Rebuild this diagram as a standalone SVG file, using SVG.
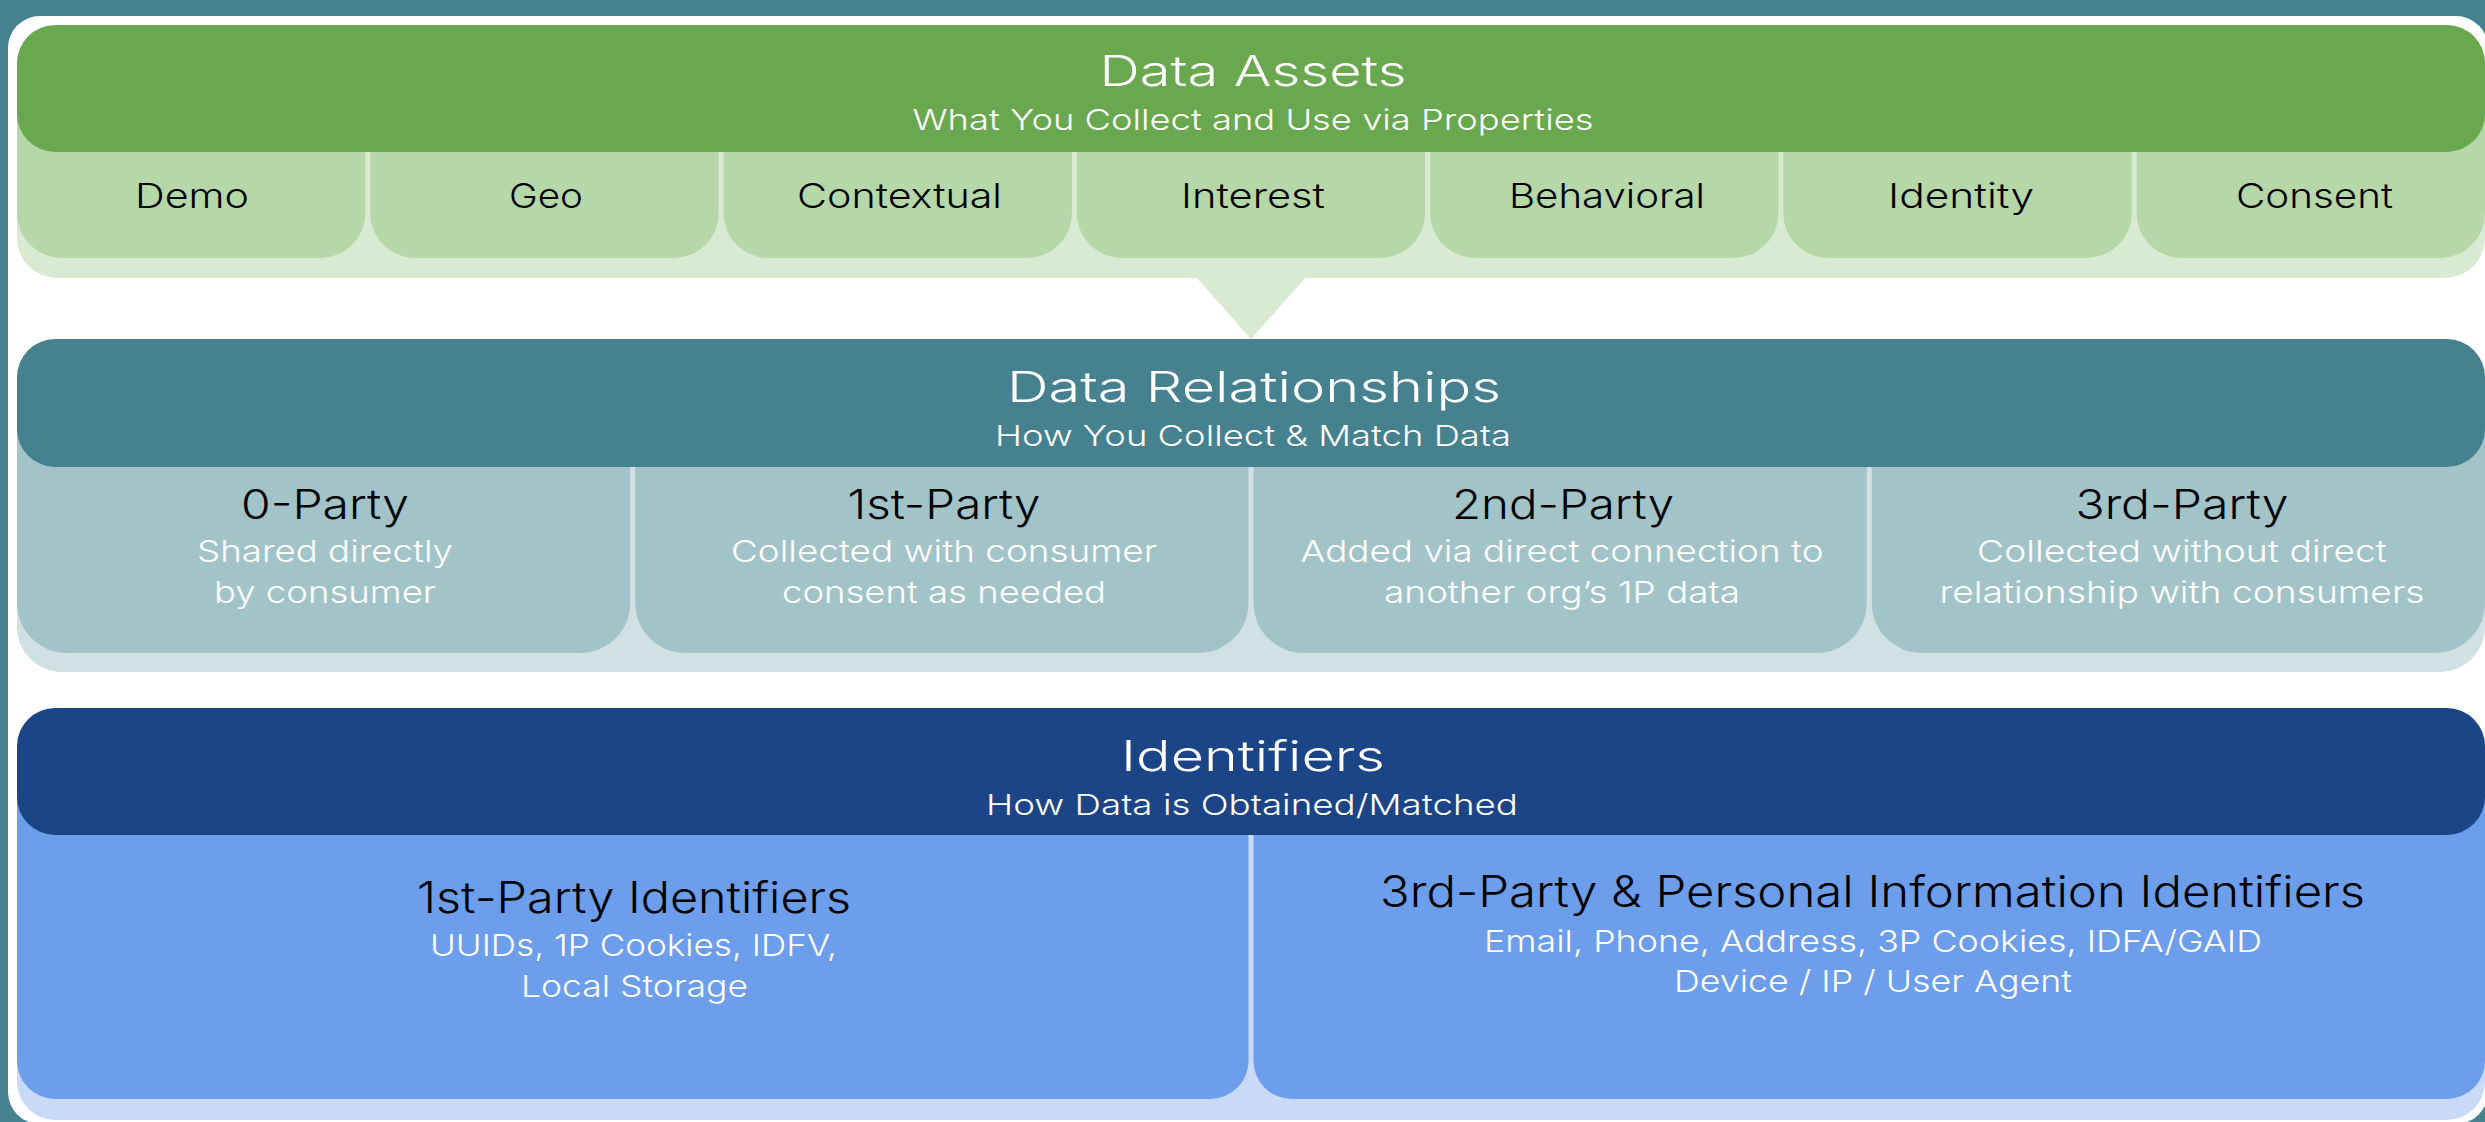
<svg xmlns="http://www.w3.org/2000/svg" width="2485" height="1122" viewBox="0 0 2485 1122">
<style>
  text { font-family: Inter, "Open Sans", "Liberation Sans", sans-serif; font-weight: 300; text-anchor: middle; }
  .title { font-size: 42px; fill: #ffffff; }
  .sub { font-size: 29px; fill: #ffffff; }
  .lbl1 { font-size: 34px; fill: #000000; }
  .lbl { font-size: 41px; fill: #000000; }
  .lbl3 { font-size: 43px; fill: #000000; }
  .desc { font-size: 30px; fill: #ffffff; }
  .g-head { fill: #6AA84F; } .g-tile { fill: #B6D7A8; } .g-band { fill: #D9EAD3; }
  .t-head { fill: #45818E; } .t-tile { fill: #A2C4C9; } .t-band { fill: #D0E0E3; }
  .b-head { fill: #1C4587; } .b-tile { fill: #6D9EEB; } .b-band { fill: #C9DAF8; }
</style>
<rect x="0" y="0" width="2485" height="1122" fill="#45818E"/>
<rect x="8" y="16" width="2480" height="1108" rx="32" fill="#ffffff"/>

<g id="connectors">
  <polygon class="g-band" points="1195,276 1307,276 1251,339"/>
</g>

<g id="data-assets">
  <path class="g-band" d="M17 90 H2485 V238 A40 40 0 0 1 2445 278 H57 A40 40 0 0 1 17 238 Z"/>
  <g id="asset-demo">
    <path class="g-tile" d="M17 100 H365.3 V213 A45 45 0 0 1 320.3 258 H62 A45 45 0 0 1 17 213 Z"/>
    <text class="lbl1" x="192" y="208" textLength="114" lengthAdjust="spacingAndGlyphs">Demo</text>
  </g>
  <g id="asset-geo">
    <path class="g-tile" d="M370.3 100 H718.6 V213 A45 45 0 0 1 673.6 258 H415.3 A45 45 0 0 1 370.3 213 Z"/>
    <text class="lbl1" x="546" y="208" textLength="74" lengthAdjust="spacingAndGlyphs">Geo</text>
  </g>
  <g id="asset-contextual">
    <path class="g-tile" d="M723.6 100 H1071.9 V213 A45 45 0 0 1 1026.9 258 H768.6 A45 45 0 0 1 723.6 213 Z"/>
    <text class="lbl1" x="899.5" y="208" textLength="205" lengthAdjust="spacingAndGlyphs">Contextual</text>
  </g>
  <g id="asset-interest">
    <path class="g-tile" d="M1076.9 100 H1425.1 V213 A45 45 0 0 1 1380.1 258 H1121.9 A45 45 0 0 1 1076.9 213 Z"/>
    <text class="lbl1" x="1253" y="208" textLength="144" lengthAdjust="spacingAndGlyphs">Interest</text>
  </g>
  <g id="asset-behavioral">
    <path class="g-tile" d="M1430.1 100 H1778.4 V213 A45 45 0 0 1 1733.4 258 H1475.1 A45 45 0 0 1 1430.1 213 Z"/>
    <text class="lbl1" x="1607" y="208" textLength="196" lengthAdjust="spacingAndGlyphs">Behavioral</text>
  </g>
  <g id="asset-identity">
    <path class="g-tile" d="M1783.4 100 H2131.7 V213 A45 45 0 0 1 2086.7 258 H1828.4 A45 45 0 0 1 1783.4 213 Z"/>
    <text class="lbl1" x="1961" y="208" textLength="146" lengthAdjust="spacingAndGlyphs">Identity</text>
  </g>
  <g id="asset-consent">
    <path class="g-tile" d="M2136.7 100 H2485 V213 A45 45 0 0 1 2440 258 H2181.7 A45 45 0 0 1 2136.7 213 Z"/>
    <text class="lbl1" x="2314.5" y="208" textLength="157" lengthAdjust="spacingAndGlyphs">Consent</text>
  </g>
  <g id="assets-header">
    <rect class="g-head" x="17" y="25" width="2468" height="127" rx="38"/>
    <text class="title" x="1253" y="86" textLength="307" lengthAdjust="spacingAndGlyphs">Data Assets</text>
    <text class="sub" x="1253" y="130" textLength="681" lengthAdjust="spacingAndGlyphs">What You Collect and Use via Properties</text>
  </g>
</g>

<g id="data-relationships">
  <path class="t-band" d="M17 400 H2485 V627 A45 45 0 0 1 2440 672 H62 A45 45 0 0 1 17 627 Z"/>
  <g id="rel-0party">
    <path class="t-tile" d="M17 410 H630.25 V603 A50 50 0 0 1 580.25 653 H67 A50 50 0 0 1 17 603 Z"/>
    <text class="lbl" x="325" y="519" textLength="168" lengthAdjust="spacingAndGlyphs">0-Party</text>
    <text class="desc" x="325" y="562" textLength="256" lengthAdjust="spacingAndGlyphs">Shared directly</text>
    <text class="desc" x="325" y="603" textLength="222" lengthAdjust="spacingAndGlyphs">by consumer</text>
  </g>
  <g id="rel-1party">
    <path class="t-tile" d="M635.25 410 H1248.5 V603 A50 50 0 0 1 1198.5 653 H685.25 A50 50 0 0 1 635.25 603 Z"/>
    <text class="lbl" x="944" y="519" textLength="193" lengthAdjust="spacingAndGlyphs">1st-Party</text>
    <text class="desc" x="944" y="562" textLength="426" lengthAdjust="spacingAndGlyphs">Collected with consumer</text>
    <text class="desc" x="944" y="603" textLength="324" lengthAdjust="spacingAndGlyphs">consent as needed</text>
  </g>
  <g id="rel-2party">
    <path class="t-tile" d="M1253.5 410 H1866.75 V603 A50 50 0 0 1 1816.75 653 H1303.5 A50 50 0 0 1 1253.5 603 Z"/>
    <text class="lbl" x="1563" y="519" textLength="222" lengthAdjust="spacingAndGlyphs">2nd-Party</text>
    <text class="desc" x="1562" y="562" textLength="523" lengthAdjust="spacingAndGlyphs">Added via direct connection to</text>
    <text class="desc" x="1562" y="603" textLength="356" lengthAdjust="spacingAndGlyphs">another org’s 1P data</text>
  </g>
  <g id="rel-3party">
    <path class="t-tile" d="M1871.75 410 H2485 V603 A50 50 0 0 1 2435 653 H1921.75 A50 50 0 0 1 1871.75 603 Z"/>
    <text class="lbl" x="2182" y="519" textLength="213" lengthAdjust="spacingAndGlyphs">3rd-Party</text>
    <text class="desc" x="2182" y="562" textLength="410" lengthAdjust="spacingAndGlyphs">Collected without direct</text>
    <text class="desc" x="2182" y="603" textLength="485" lengthAdjust="spacingAndGlyphs">relationship with consumers</text>
  </g>
  <g id="relationships-header">
    <rect class="t-head" x="17" y="339" width="2468" height="128" rx="38"/>
    <text class="title" x="1254" y="402" textLength="494" lengthAdjust="spacingAndGlyphs">Data Relationships</text>
    <text class="sub" x="1253" y="446" textLength="516" lengthAdjust="spacingAndGlyphs">How You Collect &amp; Match Data</text>
  </g>
</g>

<g id="identifiers">
  <path class="b-band" d="M17 770 H2485 V1082 A38 38 0 0 1 2447 1120 H55 A38 38 0 0 1 17 1082 Z"/>
  <g id="id-1party">
    <path class="b-tile" d="M17 780 H1248.5 V1061 A38 38 0 0 1 1210.5 1099 H55 A38 38 0 0 1 17 1061 Z"/>
    <text class="lbl3" x="634" y="913" textLength="434" lengthAdjust="spacingAndGlyphs">1st-Party Identifiers</text>
    <text class="desc" x="633.5" y="956" textLength="407" lengthAdjust="spacingAndGlyphs">UUIDs, 1P Cookies, IDFV,</text>
    <text class="desc" x="634.5" y="997" textLength="227" lengthAdjust="spacingAndGlyphs">Local Storage</text>
  </g>
  <g id="id-3party">
    <path class="b-tile" d="M1253.5 780 H2485 V1061 A38 38 0 0 1 2447 1099 H1291.5 A38 38 0 0 1 1253.5 1061 Z"/>
    <text class="lbl3" x="1872.5" y="907" textLength="985" lengthAdjust="spacingAndGlyphs">3rd-Party &amp; Personal Information Identifiers</text>
    <text class="desc" x="1873" y="952" textLength="778" lengthAdjust="spacingAndGlyphs">Email, Phone, Address, 3P Cookies, IDFA/GAID</text>
    <text class="desc" x="1873" y="992" textLength="398" lengthAdjust="spacingAndGlyphs">Device / IP / User Agent</text>
  </g>
  <g id="identifiers-header">
    <rect class="b-head" x="17" y="708" width="2468" height="127" rx="38"/>
    <text class="title" x="1253" y="771" textLength="264" lengthAdjust="spacingAndGlyphs">Identifiers</text>
    <text class="sub" x="1252" y="815" textLength="532" lengthAdjust="spacingAndGlyphs">How Data is Obtained/Matched</text>
  </g>
</g>
</svg>
